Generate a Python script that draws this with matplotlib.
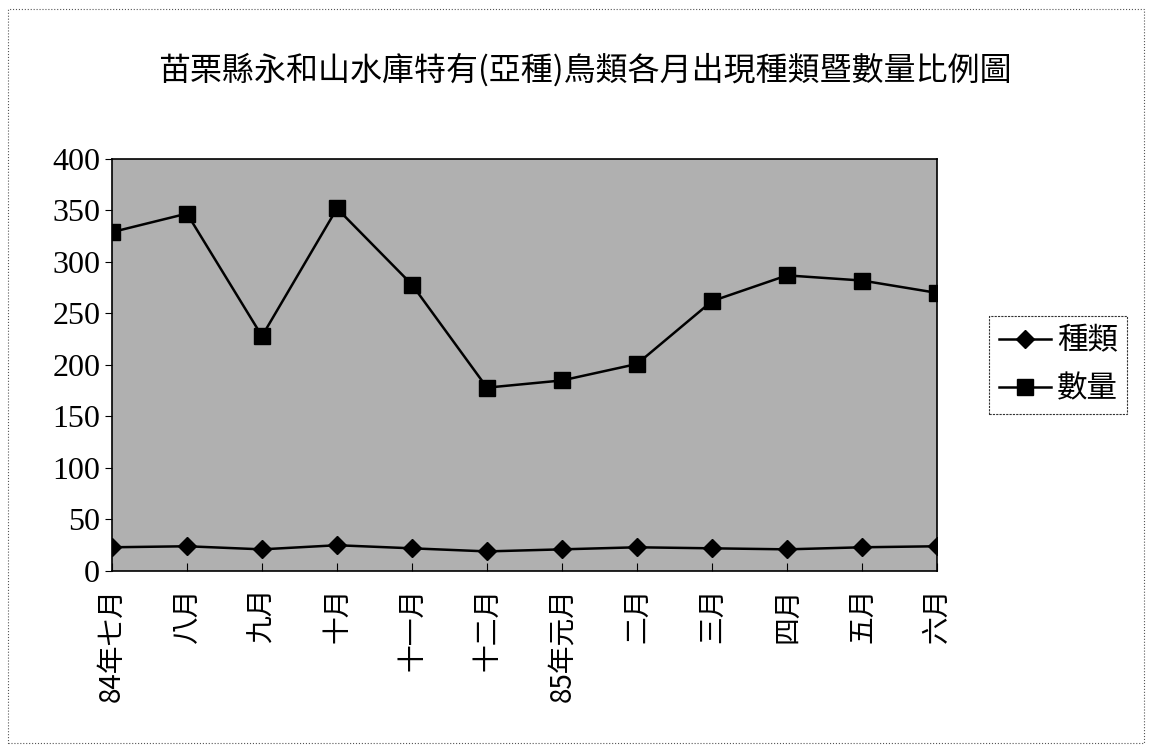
import matplotlib.pyplot as plt
from matplotlib.patches import Rectangle

plt.rcParams['font.family'] = ['Liberation Serif', 'Noto Sans CJK TC', 'DejaVu Sans']

months = ['84年七月', '八月', '九月', '十月', '十一月', '十二月',
          '85年元月', '二月', '三月', '四月', '五月', '六月']
species = [23, 24, 21, 25, 22, 19, 21, 23, 22, 21, 23, 24]
counts = [329, 347, 228, 352, 278, 178, 185, 201, 262, 287, 282, 270]

cjk = ['Noto Sans CJK TC', 'DejaVu Sans']

fig = plt.figure(figsize=(11.52, 7.5), dpi=100)
ax = fig.add_axes([0.0972, 0.2387, 0.7162, 0.5493])
ax.set_facecolor('#b0b0b0')

x = range(len(months))
ax.plot(x, species, color='black', lw=1.8, marker='D', ms=9, mfc='black', mec='black', label='種類')
ax.plot(x, counts, color='black', lw=1.8, marker='s', ms=11, mfc='black', mec='black', label='數量')

ax.set_xlim(0, len(months) - 1)
ax.set_ylim(0, 400)
ax.set_yticks(range(0, 401, 50))
ax.set_xticks(list(x))
ax.set_xticklabels(months, rotation=90, fontsize=20, family=cjk)
ax.tick_params(axis='y', labelsize=23, length=5, direction='out')
ax.tick_params(axis='x', length=6, direction='in', pad=12)
for s in ax.spines.values():
    s.set_linewidth(1.2)

fig.text(0.508, 0.907, '苗栗縣永和山水庫特有(亞種)鳥類各月出現種類暨數量比例圖',
         ha='center', va='center', fontsize=23, family=cjk)

leg = ax.legend(loc='center left', bbox_to_anchor=(1.045, 0.5),
                prop={'family': cjk, 'size': 22},
                frameon=True, fancybox=False, edgecolor='black', handlelength=1.7,
                borderpad=0.3, labelspacing=0.55, handletextpad=0.2)
leg.get_frame().set_linewidth(0.8)
leg.get_frame().set_linestyle((0, (2, 1)))

# dotted border around the whole chart area
fig.patches.append(Rectangle((0.007, 0.01), 0.986, 0.978, transform=fig.transFigure,
                             fill=False, ec='#555555', lw=0.8, ls=':'))

fig.savefig('out.png', dpi=100)
